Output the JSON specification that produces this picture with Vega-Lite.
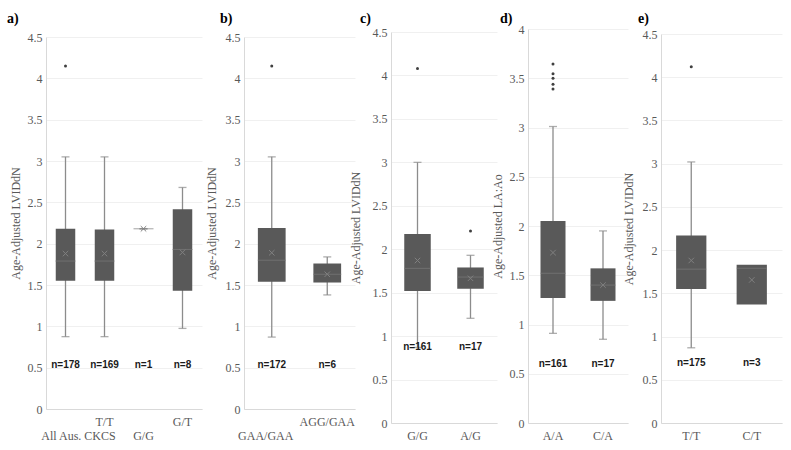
{
  "$schema": "https://vega.github.io/schema/vega-lite/v6.json",
  "background": "white",
  "padding": {"left": 7, "top": 12, "right": 2, "bottom": 2},
  "config": {
    "view": {"stroke": null},
    "axis": {"domainColor": "#d9d9d9", "ticks": false, "tickSize": 0, "labelFont": "Liberation Serif", "labelFontSize": 12, "labelColor": "#595959", "titleFont": "Liberation Serif", "titleFontSize": 12, "titleFontWeight": "normal", "titleColor": "#595959", "gridColor": "#f0f0f0"},
    "axisX": {"grid": false, "labelAngle": 0, "labelOverlap": false},
    "axisY": {"labelPadding": 4},
    "title": {"font": "Liberation Serif", "fontSize": 14, "fontWeight": "bold", "color": "#000000", "anchor": "start", "frame": "group"}
  },
  "datasets": {
    "a_box": [
      {"cat": "All Aus. CKCS", "min": 0.875, "q1": 1.55, "median": 1.79, "q3": 2.18, "max": 3.05, "mean": 1.88, "n": "n=178"},
      {"cat": "T/T", "min": 0.875, "q1": 1.55, "median": 1.79, "q3": 2.17, "max": 3.05, "mean": 1.88, "n": "n=169"},
      {"cat": "G/G", "min": 2.18, "q1": 2.18, "median": 2.18, "q3": 2.18, "max": 2.18, "mean": 2.18, "n": "n=1"},
      {"cat": "G/T", "min": 0.975, "q1": 1.43, "median": 1.93, "q3": 2.415, "max": 2.68, "mean": 1.895, "n": "n=8"}
    ],
    "a_out": [{"cat": "All Aus. CKCS", "value": 4.15}],
    "b_box": [
      {"cat": "GAA/GAA", "min": 0.87, "q1": 1.54, "median": 1.8, "q3": 2.19, "max": 3.05, "mean": 1.89, "n": "n=172"},
      {"cat": "AGG/GAA", "min": 1.38, "q1": 1.53, "median": 1.63, "q3": 1.76, "max": 1.84, "mean": 1.63, "n": "n=6"}
    ],
    "b_out": [{"cat": "GAA/GAA", "value": 4.15}],
    "c_box": [
      {"cat": "G/G", "min": 0.87, "q1": 1.52, "median": 1.78, "q3": 2.175, "max": 3.0, "mean": 1.87, "n": "n=161"},
      {"cat": "A/G", "min": 1.205, "q1": 1.545, "median": 1.68, "q3": 1.79, "max": 1.93, "mean": 1.665, "n": "n=17"}
    ],
    "c_out": [{"cat": "G/G", "value": 4.08}, {"cat": "A/G", "value": 2.21}],
    "d_box": [
      {"cat": "A/A", "min": 0.91, "q1": 1.27, "median": 1.52, "q3": 2.05, "max": 3.01, "mean": 1.73, "n": "n=161"},
      {"cat": "C/A", "min": 0.85, "q1": 1.24, "median": 1.4, "q3": 1.57, "max": 1.95, "mean": 1.4, "n": "n=17"}
    ],
    "d_out": [{"cat": "A/A", "value": 3.645}, {"cat": "A/A", "value": 3.546}, {"cat": "A/A", "value": 3.5}, {"cat": "A/A", "value": 3.44}, {"cat": "A/A", "value": 3.39}],
    "e_box": [
      {"cat": "T/T", "min": 0.87, "q1": 1.55, "median": 1.78, "q3": 2.17, "max": 3.02, "mean": 1.88, "n": "n=175"},
      {"cat": "C/T", "q1": 1.37, "median": 1.79, "q3": 1.83, "mean": 1.655, "n": "n=3"}
    ],
    "e_out": [{"cat": "T/T", "value": 4.12}]
  },
  "spacing": -6,
  "columns": 4,
  "concat": [
    {
      "spacing": 3,
      "columns": 2,
      "concat": [
        {
          "width": 156, "height": 380,
          "title": {"text": "a)", "dx": -39, "offset": 3},
          "encoding": {"x": {"field": "cat", "type": "nominal", "title": null,
            "scale": {"domain": ["All Aus. CKCS", "T/T", "G/G", "G/T"], "paddingInner": 0, "paddingOuter": 0},
            "axis": {"labelPadding": {"condition": {"test": "datum.value == 'All Aus. CKCS' || datum.value == 'G/G'", "value": 21}, "value": 7},
                     "labelOffset": {"condition": {"test": "datum.value == 'All Aus. CKCS'", "value": 13}, "value": 0}}}},
          "layer": [
            {"data": {"name": "a_box"}, "mark": {"type": "rule", "color": "#8c8c8c", "strokeWidth": 1.3},
             "encoding": {"y": {"field": "min", "type": "quantitative", "title": "Age-Adjusted LVIDdN", "scale": {"domain": [0, 4.5], "nice": false, "range": [380, 8]},
               "axis": {"values": [0, 0.5, 1, 1.5, 2, 2.5, 3, 3.5, 4, 4.5], "format": "~g", "grid": true, "titleX": -31, "titleBaseline": "middle"}},
               "y2": {"field": "max"}}},
            {"data": {"name": "a_box"}, "mark": {"type": "tick", "color": "#8c8c8c", "size": 8, "thickness": 1.3},
             "encoding": {"y": {"field": "min", "type": "quantitative", "title": "Age-Adjusted LVIDdN", "scale": {"domain": [0, 4.5], "nice": false, "range": [380, 8]}}}},
            {"data": {"name": "a_box"}, "mark": {"type": "tick", "color": "#8c8c8c", "size": 8, "thickness": 1.3},
             "encoding": {"y": {"field": "max", "type": "quantitative", "title": "Age-Adjusted LVIDdN", "scale": {"domain": [0, 4.5], "nice": false, "range": [380, 8]}}}},
            {"data": {"name": "a_box"}, "mark": {"type": "bar", "color": "#595959", "width": {"band": 0.5}},
             "encoding": {"y": {"field": "q1", "type": "quantitative", "title": "Age-Adjusted LVIDdN", "scale": {"domain": [0, 4.5], "nice": false, "range": [380, 8]}}, "y2": {"field": "q3"}}},
            {"data": {"name": "a_box"}, "mark": {"type": "tick", "color": "#7a7a7a", "size": 20, "thickness": 1},
             "encoding": {"y": {"field": "median", "type": "quantitative", "title": "Age-Adjusted LVIDdN", "scale": {"domain": [0, 4.5], "nice": false, "range": [380, 8]}}}},
            {"data": {"name": "a_box"}, "mark": {"type": "point", "shape": "M-1,-1L1,1M-1,1L1,-1", "filled": false, "size": 30, "color": "#808080", "strokeWidth": 1, "opacity": 1},
             "encoding": {"y": {"field": "mean", "type": "quantitative", "title": "Age-Adjusted LVIDdN", "scale": {"domain": [0, 4.5], "nice": false, "range": [380, 8]}}}},
            {"data": {"name": "a_out"}, "mark": {"type": "point", "shape": "circle", "filled": true, "size": 9, "color": "#404040", "opacity": 1},
             "encoding": {"y": {"field": "value", "type": "quantitative", "title": "Age-Adjusted LVIDdN", "scale": {"domain": [0, 4.5], "nice": false, "range": [380, 8]}}}},
            {"data": {"name": "a_box"}, "mark": {"type": "text", "font": "Liberation Sans", "fontSize": 10, "fontWeight": "bold", "color": "#1a1a1a"},
             "encoding": {"text": {"field": "n"}, "y": {"datum": 0.53, "type": "quantitative", "scale": {"domain": [0, 4.5], "nice": false, "range": [380, 8]}}}}
          ]
        },
        {
          "width": 111, "height": 380,
          "title": {"text": "b)", "dx": -24, "offset": 3},
          "encoding": {"x": {"field": "cat", "type": "nominal", "title": null,
            "scale": {"domain": ["GAA/GAA", "AGG/GAA"], "paddingInner": 0, "paddingOuter": 0},
            "axis": {"labelPadding": {"condition": {"test": "datum.value == 'GAA/GAA'", "value": 21}, "value": 7},
                     "labelOffset": {"condition": {"test": "datum.value == 'GAA/GAA'", "value": -6}, "value": 0}}}},
          "layer": [
            {"data": {"name": "b_box"}, "mark": {"type": "rule", "color": "#8c8c8c", "strokeWidth": 1.3},
             "encoding": {"y": {"field": "min", "type": "quantitative", "title": "Age-Adjusted LVIDdN", "scale": {"domain": [0, 4.5], "nice": false, "range": [380, 8]},
               "axis": {"values": [0, 0.5, 1, 1.5, 2, 2.5, 3, 3.5, 4, 4.5], "format": "~g", "grid": true, "titleX": -33, "titleBaseline": "middle"}},
               "y2": {"field": "max"}}},
            {"data": {"name": "b_box"}, "mark": {"type": "tick", "color": "#8c8c8c", "size": 8, "thickness": 1.3},
             "encoding": {"y": {"field": "min", "type": "quantitative", "title": "Age-Adjusted LVIDdN", "scale": {"domain": [0, 4.5], "nice": false, "range": [380, 8]}}}},
            {"data": {"name": "b_box"}, "mark": {"type": "tick", "color": "#8c8c8c", "size": 8, "thickness": 1.3},
             "encoding": {"y": {"field": "max", "type": "quantitative", "title": "Age-Adjusted LVIDdN", "scale": {"domain": [0, 4.5], "nice": false, "range": [380, 8]}}}},
            {"data": {"name": "b_box"}, "mark": {"type": "bar", "color": "#595959", "width": {"band": 0.5}},
             "encoding": {"y": {"field": "q1", "type": "quantitative", "title": "Age-Adjusted LVIDdN", "scale": {"domain": [0, 4.5], "nice": false, "range": [380, 8]}}, "y2": {"field": "q3"}}},
            {"data": {"name": "b_box"}, "mark": {"type": "tick", "color": "#7a7a7a", "size": 28, "thickness": 1},
             "encoding": {"y": {"field": "median", "type": "quantitative", "title": "Age-Adjusted LVIDdN", "scale": {"domain": [0, 4.5], "nice": false, "range": [380, 8]}}}},
            {"data": {"name": "b_box"}, "mark": {"type": "point", "shape": "M-1,-1L1,1M-1,1L1,-1", "filled": false, "size": 30, "color": "#808080", "strokeWidth": 1, "opacity": 1},
             "encoding": {"y": {"field": "mean", "type": "quantitative", "title": "Age-Adjusted LVIDdN", "scale": {"domain": [0, 4.5], "nice": false, "range": [380, 8]}}}},
            {"data": {"name": "b_out"}, "mark": {"type": "point", "shape": "circle", "filled": true, "size": 9, "color": "#404040", "opacity": 1},
             "encoding": {"y": {"field": "value", "type": "quantitative", "title": "Age-Adjusted LVIDdN", "scale": {"domain": [0, 4.5], "nice": false, "range": [380, 8]}}}},
            {"data": {"name": "b_box"}, "mark": {"type": "text", "font": "Liberation Sans", "fontSize": 10, "fontWeight": "bold", "color": "#1a1a1a"},
             "encoding": {"text": {"field": "n"}, "y": {"datum": 0.53, "type": "quantitative", "scale": {"domain": [0, 4.5], "nice": false, "range": [380, 8]}}}}
          ]
        }
      ]
    },
    {
      "width": 106, "height": 394,
      "title": {"text": "c)", "dx": -31, "offset": 0},
      "encoding": {"x": {"field": "cat", "type": "nominal", "title": null,
        "scale": {"domain": ["G/G", "A/G"], "paddingInner": 0, "paddingOuter": 0},
        "axis": {"labelPadding": 7}}},
      "layer": [
        {"data": {"name": "c_box"}, "mark": {"type": "rule", "color": "#8c8c8c", "strokeWidth": 1.3},
         "encoding": {"y": {"field": "min", "type": "quantitative", "title": "Age-Adjusted LVIDdN", "scale": {"domain": [0, 4.5], "nice": false, "range": [394, 3]},
           "axis": {"values": [0, 0.5, 1, 1.5, 2, 2.5, 3, 3.5, 4, 4.5], "format": "~g", "grid": true, "titleX": -36, "titleBaseline": "middle"}},
           "y2": {"field": "max"}}},
        {"data": {"name": "c_box"}, "mark": {"type": "tick", "color": "#8c8c8c", "size": 8, "thickness": 1.3},
         "encoding": {"y": {"field": "min", "type": "quantitative", "title": "Age-Adjusted LVIDdN", "scale": {"domain": [0, 4.5], "nice": false, "range": [394, 3]}}}},
        {"data": {"name": "c_box"}, "mark": {"type": "tick", "color": "#8c8c8c", "size": 8, "thickness": 1.3},
         "encoding": {"y": {"field": "max", "type": "quantitative", "title": "Age-Adjusted LVIDdN", "scale": {"domain": [0, 4.5], "nice": false, "range": [394, 3]}}}},
        {"data": {"name": "c_box"}, "mark": {"type": "bar", "color": "#595959", "width": {"band": 0.5}},
         "encoding": {"y": {"field": "q1", "type": "quantitative", "title": "Age-Adjusted LVIDdN", "scale": {"domain": [0, 4.5], "nice": false, "range": [394, 3]}}, "y2": {"field": "q3"}}},
        {"data": {"name": "c_box"}, "mark": {"type": "tick", "color": "#7a7a7a", "size": 27, "thickness": 1},
         "encoding": {"y": {"field": "median", "type": "quantitative", "title": "Age-Adjusted LVIDdN", "scale": {"domain": [0, 4.5], "nice": false, "range": [394, 3]}}}},
        {"data": {"name": "c_box"}, "mark": {"type": "point", "shape": "M-1,-1L1,1M-1,1L1,-1", "filled": false, "size": 30, "color": "#808080", "strokeWidth": 1, "opacity": 1},
         "encoding": {"y": {"field": "mean", "type": "quantitative", "title": "Age-Adjusted LVIDdN", "scale": {"domain": [0, 4.5], "nice": false, "range": [394, 3]}}}},
        {"data": {"name": "c_out"}, "mark": {"type": "point", "shape": "circle", "filled": true, "size": 9, "color": "#404040", "opacity": 1},
         "encoding": {"y": {"field": "value", "type": "quantitative", "title": "Age-Adjusted LVIDdN", "scale": {"domain": [0, 4.5], "nice": false, "range": [394, 3]}}}},
        {"data": {"name": "c_box"}, "mark": {"type": "text", "font": "Liberation Sans", "fontSize": 10, "fontWeight": "bold", "color": "#1a1a1a"},
         "encoding": {"text": {"field": "n"}, "y": {"datum": 0.88, "type": "quantitative", "scale": {"domain": [0, 4.5], "nice": false, "range": [394, 3]}}}}
      ]
    },
    {
      "width": 100, "height": 394,
      "title": {"text": "d)", "dx": -28, "offset": -3},
      "encoding": {"x": {"field": "cat", "type": "nominal", "title": null,
        "scale": {"domain": ["A/A", "C/A"], "paddingInner": 0, "paddingOuter": 0},
        "axis": {"labelPadding": 7}}},
      "layer": [
        {"data": {"name": "d_box"}, "mark": {"type": "rule", "color": "#8c8c8c", "strokeWidth": 1.3},
         "encoding": {"y": {"field": "min", "type": "quantitative", "title": "Age-Adjusted LA:Ao", "scale": {"domain": [0, 4], "nice": false},
           "axis": {"values": [0, 0.5, 1, 1.5, 2, 2.5, 3, 3.5, 4], "format": "~g", "grid": true, "titleX": -31, "titleBaseline": "middle"}},
           "y2": {"field": "max"}}},
        {"data": {"name": "d_box"}, "mark": {"type": "tick", "color": "#8c8c8c", "size": 8, "thickness": 1.3},
         "encoding": {"y": {"field": "min", "type": "quantitative", "title": "Age-Adjusted LA:Ao", "scale": {"domain": [0, 4], "nice": false}}}},
        {"data": {"name": "d_box"}, "mark": {"type": "tick", "color": "#8c8c8c", "size": 8, "thickness": 1.3},
         "encoding": {"y": {"field": "max", "type": "quantitative", "title": "Age-Adjusted LA:Ao", "scale": {"domain": [0, 4], "nice": false}}}},
        {"data": {"name": "d_box"}, "mark": {"type": "bar", "color": "#595959", "width": {"band": 0.5}},
         "encoding": {"y": {"field": "q1", "type": "quantitative", "title": "Age-Adjusted LA:Ao", "scale": {"domain": [0, 4], "nice": false}}, "y2": {"field": "q3"}}},
        {"data": {"name": "d_box"}, "mark": {"type": "tick", "color": "#7a7a7a", "size": 25, "thickness": 1},
         "encoding": {"y": {"field": "median", "type": "quantitative", "title": "Age-Adjusted LA:Ao", "scale": {"domain": [0, 4], "nice": false}}}},
        {"data": {"name": "d_box"}, "mark": {"type": "point", "shape": "M-1,-1L1,1M-1,1L1,-1", "filled": false, "size": 30, "color": "#808080", "strokeWidth": 1, "opacity": 1},
         "encoding": {"y": {"field": "mean", "type": "quantitative", "title": "Age-Adjusted LA:Ao", "scale": {"domain": [0, 4], "nice": false}}}},
        {"data": {"name": "d_out"}, "mark": {"type": "point", "shape": "circle", "filled": true, "size": 9, "color": "#404040", "opacity": 1},
         "encoding": {"y": {"field": "value", "type": "quantitative", "title": "Age-Adjusted LA:Ao", "scale": {"domain": [0, 4], "nice": false}}}},
        {"data": {"name": "d_box"}, "mark": {"type": "text", "font": "Liberation Sans", "fontSize": 10, "fontWeight": "bold", "color": "#1a1a1a"},
         "encoding": {"text": {"field": "n"}, "y": {"datum": 0.6, "type": "quantitative", "scale": {"domain": [0, 4], "nice": false}}}}
      ]
    },
    {
      "width": 121, "height": 394,
      "title": {"text": "e)", "dx": -23, "offset": 2},
      "encoding": {"x": {"field": "cat", "type": "nominal", "title": null,
        "scale": {"domain": ["T/T", "C/T"], "paddingInner": 0, "paddingOuter": 0},
        "axis": {"labelPadding": 7}}},
      "layer": [
        {"data": {"name": "e_box"}, "mark": {"type": "rule", "color": "#8c8c8c", "strokeWidth": 1.3},
         "encoding": {"y": {"field": "min", "type": "quantitative", "title": "Age-Adjusted LVIDdN", "scale": {"domain": [0, 4.5], "nice": false, "range": [394, 5]},
           "axis": {"values": [0, 0.5, 1, 1.5, 2, 2.5, 3, 3.5, 4, 4.5], "format": "~g", "grid": true, "titleX": -33, "titleBaseline": "middle"}},
           "y2": {"field": "max"}}},
        {"data": {"name": "e_box"}, "mark": {"type": "tick", "color": "#8c8c8c", "size": 8, "thickness": 1.3},
         "encoding": {"y": {"field": "min", "type": "quantitative", "title": "Age-Adjusted LVIDdN", "scale": {"domain": [0, 4.5], "nice": false, "range": [394, 5]}}}},
        {"data": {"name": "e_box"}, "mark": {"type": "tick", "color": "#8c8c8c", "size": 8, "thickness": 1.3},
         "encoding": {"y": {"field": "max", "type": "quantitative", "title": "Age-Adjusted LVIDdN", "scale": {"domain": [0, 4.5], "nice": false, "range": [394, 5]}}}},
        {"data": {"name": "e_box"}, "mark": {"type": "bar", "color": "#595959", "width": {"band": 0.5}},
         "encoding": {"y": {"field": "q1", "type": "quantitative", "title": "Age-Adjusted LVIDdN", "scale": {"domain": [0, 4.5], "nice": false, "range": [394, 5]}}, "y2": {"field": "q3"}}},
        {"data": {"name": "e_box"}, "mark": {"type": "tick", "color": "#7a7a7a", "size": 30, "thickness": 1},
         "encoding": {"y": {"field": "median", "type": "quantitative", "title": "Age-Adjusted LVIDdN", "scale": {"domain": [0, 4.5], "nice": false, "range": [394, 5]}}}},
        {"data": {"name": "e_box"}, "mark": {"type": "point", "shape": "M-1,-1L1,1M-1,1L1,-1", "filled": false, "size": 30, "color": "#808080", "strokeWidth": 1, "opacity": 1},
         "encoding": {"y": {"field": "mean", "type": "quantitative", "title": "Age-Adjusted LVIDdN", "scale": {"domain": [0, 4.5], "nice": false, "range": [394, 5]}}}},
        {"data": {"name": "e_out"}, "mark": {"type": "point", "shape": "circle", "filled": true, "size": 9, "color": "#404040", "opacity": 1},
         "encoding": {"y": {"field": "value", "type": "quantitative", "title": "Age-Adjusted LVIDdN", "scale": {"domain": [0, 4.5], "nice": false, "range": [394, 5]}}}},
        {"data": {"name": "e_box"}, "mark": {"type": "text", "font": "Liberation Sans", "fontSize": 10, "fontWeight": "bold", "color": "#1a1a1a"},
         "encoding": {"text": {"field": "n"}, "y": {"datum": 0.69, "type": "quantitative", "scale": {"domain": [0, 4.5], "nice": false, "range": [394, 5]}}}}
      ]
    }
  ]
}
